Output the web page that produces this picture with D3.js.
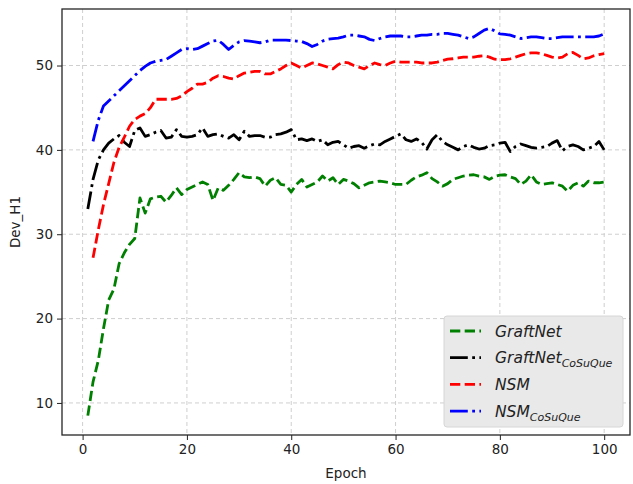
<!DOCTYPE html>
<html>
<head>
<meta charset="utf-8">
<script src="https://cdn.jsdelivr.net/npm/d3@7"></script>
<style>
  html, body { margin: 0; padding: 0; background: #fff; }
  svg { display: block; font-family: "DejaVu Sans", sans-serif; }
</style>
</head>
<body>
<svg id="chart" width="633" height="484"></svg>
<script>
const epochs = d3.range(1, 101);

const graftNet = [8.5,12.5,15.0,18.8,22.2,23.5,26.5,27.8,28.8,29.5,
  34.3,32.5,34.2,34.4,34.5,33.8,34.6,35.5,34.7,35.3,
  35.6,35.9,36.2,35.9,34.0,35.5,35.2,35.8,36.5,37.3,
  36.8,36.7,36.8,36.6,35.7,36.4,36.7,35.9,35.8,35.0,
  35.9,36.5,35.6,35.9,36.2,36.9,36.3,36.7,35.9,36.5,
  36.3,36.0,35.5,35.8,36.1,36.2,36.3,36.2,36.1,35.9,
  35.9,35.9,36.4,36.8,37.0,37.3,36.6,36.2,35.7,36.0,
  36.5,36.7,36.9,37.0,37.05,36.9,36.8,36.5,36.85,37.0,
  37.05,36.8,36.6,35.9,36.3,37.05,36.2,35.9,36.0,36.1,
  35.9,35.7,35.1,35.8,36.1,35.7,36.3,36.1,36.1,36.2];

const graftNetCoSuQue = [33.0,36.5,38.8,40.0,40.8,41.3,41.7,40.9,40.4,42.3,
  42.6,41.6,41.8,42.1,42.3,41.4,41.5,42.4,41.6,41.5,
  41.6,41.8,42.6,41.6,41.8,41.9,41.6,41.4,41.8,41.2,
  42.2,41.6,41.7,41.7,41.5,41.5,41.8,41.9,42.1,42.4,
  41.2,41.3,41.1,41.3,41.0,41.2,40.6,40.9,41.0,40.6,
  40.2,40.4,40.5,40.2,40.5,40.7,40.6,41.0,41.3,41.6,
  41.9,41.2,41.0,41.3,40.9,40.1,41.2,41.8,41.0,40.6,
  40.3,40.0,40.4,40.6,40.3,40.1,40.2,40.5,40.6,40.8,
  40.9,39.8,40.4,40.7,40.5,40.3,40.2,40.3,40.4,40.8,
  41.1,39.9,40.4,40.6,40.4,40.0,40.2,40.4,41.0,40.0];

const nsm = [null,27.2,30.5,33.5,36.0,38.5,40.3,41.5,42.8,43.6,
  44.0,44.3,45.0,46.0,46.0,46.0,46.0,46.1,46.4,46.9,
  47.3,47.8,47.8,48.0,48.5,48.8,48.7,48.5,48.4,48.8,
  49.1,49.2,49.3,49.3,49.0,49.0,49.3,49.6,50.0,50.3,
  50.0,49.7,50.0,50.3,50.2,50.0,49.8,49.6,50.1,50.4,
  50.3,50.0,49.8,49.6,50.0,50.3,50.1,50.0,50.3,50.5,
  50.4,50.4,50.4,50.4,50.3,50.3,50.3,50.4,50.6,50.75,
  50.8,50.9,51.0,51.0,51.0,51.1,51.15,51.0,50.75,50.7,
  50.7,50.8,51.0,51.2,51.4,51.5,51.5,51.4,51.2,51.0,
  50.9,51.0,51.4,51.55,51.2,50.8,50.9,51.15,51.3,51.4];

const nsmCoSuQue = [null,41.0,43.5,45.2,45.8,46.4,47.0,47.6,48.2,48.8,
  49.4,49.9,50.3,50.5,50.6,50.7,51.1,51.5,51.9,52.0,
  51.9,52.0,52.3,52.6,52.9,53.0,52.5,51.9,52.4,52.8,
  52.96,52.9,52.8,52.7,52.8,53.0,53.0,53.0,53.0,52.96,
  52.9,52.85,52.6,52.25,52.5,52.9,53.1,53.2,53.25,53.4,
  53.6,53.6,53.5,53.4,53.1,52.96,53.2,53.4,53.5,53.5,
  53.5,53.4,53.4,53.5,53.6,53.6,53.7,53.7,53.8,53.8,
  53.7,53.6,53.4,53.2,53.4,53.8,54.2,54.4,54.1,53.75,
  53.7,53.6,53.4,53.2,53.3,53.4,53.4,53.3,53.2,53.2,
  53.3,53.4,53.4,53.4,53.4,53.4,53.4,53.4,53.5,53.75];

const xTicks = [0, 20, 40, 60, 80, 100];
const yTicks = [10, 20, 30, 40, 50];
const seriesNames = ["GraftNet", "GraftNet", "NSM", "NSM"];
const seriesSubs = ["", "CoSuQue", "", "CoSuQue"];
const seriesColors = ["green", "black", "red", "blue"];

const series = [
  { name: seriesNames[0], sub: seriesSubs[0], values: graftNet, color: seriesColors[0], dash: "10.3,4.4" },
  { name: seriesNames[1], sub: seriesSubs[1], values: graftNetCoSuQue, color: seriesColors[1], dash: "17.8,4.4,2.8,4.4" },
  { name: seriesNames[2], sub: seriesSubs[2], values: nsm, color: seriesColors[2], dash: "10.3,4.4" },
  { name: seriesNames[3], sub: seriesSubs[3], values: nsmCoSuQue, color: seriesColors[3], dash: "17.8,4.4,2.8,4.4" }
];

const svg = d3.select("#chart");
const L = 62, R = 630, T = 9, B = 435;

const x = d3.scaleLinear().domain([-3.95, 104.95]).range([L, R]);
const y = d3.scaleLinear().domain([6.2, 56.7]).range([B, T]);

// grid
const grid = svg.append("g");
grid.selectAll(".gx").data(xTicks).join("line")
  .attr("x1", d => x(d)).attr("x2", d => x(d)).attr("y1", T).attr("y2", B)
  .attr("stroke", "#cfcfcf").attr("stroke-width", 1).attr("stroke-dasharray", "4,3");
grid.selectAll(".gy").data(yTicks).join("line")
  .attr("x1", L).attr("x2", R).attr("y1", d => y(d)).attr("y2", d => y(d))
  .attr("stroke", "#cfcfcf").attr("stroke-width", 1).attr("stroke-dasharray", "4,3");

// lines
svg.append("clipPath").attr("id", "clip").append("rect")
  .attr("x", L).attr("y", T).attr("width", R - L).attr("height", B - T);

const line = d3.line()
  .defined(d => d[1] != null)
  .x(d => x(d[0])).y(d => y(d[1]));

const lines = svg.append("g").attr("clip-path", "url(#clip)");
series.forEach(s => {
  const pts = epochs.map((e, i) => [e, s.values[i]]).filter(d => d[1] != null);
  lines.append("path")
    .attr("d", line(pts))
    .attr("fill", "none")
    .attr("stroke", s.color)
    .attr("stroke-width", 2.8)
    .attr("stroke-dasharray", s.dash)
    .attr("stroke-linejoin", "round")
    .attr("stroke-linecap", "butt");
});

// axes
const xAxis = d3.axisBottom(x).tickValues(xTicks).tickSize(5).tickPadding(4);
const yAxis = d3.axisLeft(y).tickValues(yTicks).tickSize(5).tickPadding(4);

const gx = svg.append("g").attr("transform", `translate(0,${B})`).call(xAxis);
const gy = svg.append("g").attr("transform", `translate(${L},0)`).call(yAxis);
[gx, gy].forEach(g => {
  g.select(".domain").remove();
  g.selectAll(".tick line").attr("stroke", "#222").attr("stroke-width", 1);
  g.selectAll(".tick text").attr("fill", "#222").style("font-size", "13.5px")
    .style("font-family", "DejaVu Sans, sans-serif");
});

// frame
svg.append("rect").attr("x", L).attr("y", T).attr("width", R - L).attr("height", B - T)
  .attr("fill", "none").attr("stroke", "#262626").attr("stroke-width", 1.3);

// axis labels
svg.append("text").attr("x", (L + R) / 2).attr("y", 478)
  .attr("text-anchor", "middle").style("font-size", "13.5px").attr("fill", "#222").text("Epoch");
svg.append("text").attr("transform", `translate(20,${(T + B) / 2}) rotate(-90)`)
  .attr("text-anchor", "middle").style("font-size", "13.5px").attr("fill", "#222").text("Dev_H1");

// legend
const lg = svg.append("g");
lg.append("rect").attr("x", 444).attr("y", 316).attr("width", 179).attr("height", 111)
  .attr("rx", 3).attr("fill", "#e9e9e9").attr("stroke", "#d6d6d6").attr("stroke-width", 1);
series.forEach((s, i) => {
  const yy = 331 + i * 26.7;
  lg.append("line").attr("x1", 450).attr("x2", 481).attr("y1", yy).attr("y2", yy)
    .attr("stroke", s.color).attr("stroke-width", 2.8).attr("stroke-dasharray", s.dash);
  const t = lg.append("text").attr("x", 495).attr("y", yy + 5.5)
    .style("font-size", "15.5px").style("font-style", "italic").attr("fill", "#222");
  t.append("tspan").text(s.name);
  if (s.sub) {
    t.append("tspan").attr("dy", 4).style("font-size", "11px").text(s.sub);
  }
});
</script>
</body>
</html>
